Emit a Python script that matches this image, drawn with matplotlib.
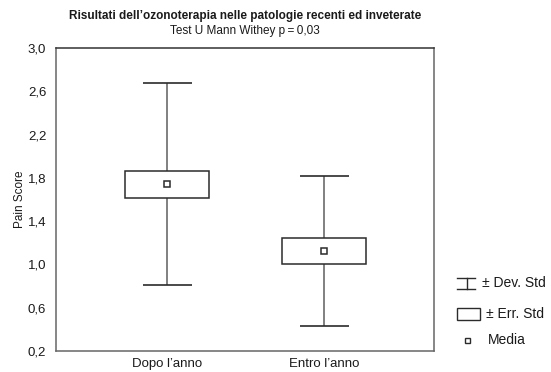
import numpy as np
import matplotlib
matplotlib.use("Agg")
import matplotlib.pyplot as plt
from matplotlib.patches import Rectangle
from matplotlib.lines import Line2D

plt.rcParams['font.family'] = ['Liberation Sans', 'DejaVu Sans']

# Pain score summary per group
categories = ["Dopo l\u2019anno", "Entro l\u2019anno"]
means = [1.74, 1.124]
std_dev = [0.934, 0.69]
std_err = [0.123, 0.124]
yticks = [0.2, 0.6, 1.0, 1.4, 1.8, 2.2, 2.6, 3.0]
ytick_labels = ["0,2", "0,6", "1,0", "1,4", "1,8", "2,2", "2,6", "3,0"]

title_main = "Risultati dell\u2019ozonoterapia nelle patologie recenti ed inveterate"
title_sub = "Test U Mann Withey p\u2009=\u20090,03"

W, H = 551, 372
fig = plt.figure(figsize=(W / 100, H / 100), dpi=100)
ax = fig.add_axes([56 / W, 1 - 351 / H, (434 - 56) / W, (351 - 48) / H])

x = np.arange(1, len(categories) + 1)
cap_half = 0.156
box_half = 0.267

stem_color = "#808080"
dark = "#2b2b2b"
text_color = "#1a1a1a"

lo = [m - s for m, s in zip(means, std_dev)]
hi = [m + s for m, s in zip(means, std_dev)]
ax.vlines(x, lo, hi, color=stem_color, lw=1.4, zorder=1)
ax.hlines(lo, x - cap_half, x + cap_half, color=dark, lw=1.2, zorder=2)
ax.hlines(hi, x - cap_half, x + cap_half, color=dark, lw=1.2, zorder=2)

ax.bar(x, [2 * e for e in std_err], bottom=[m - e for m, e in zip(means, std_err)],
       width=2 * box_half, facecolor="white", edgecolor=dark, lw=1.1, zorder=3)
ax.plot(x, means, ls="none", marker="s", ms=5, mfc="white", mec=dark, mew=1.1, zorder=4)

ax.set_xlim(0.293, 2.70)
ax.set_ylim(0.2, 3.0)
ax.set_yticks(yticks)
ax.set_yticklabels(ytick_labels)
ax.set_xticks(x)
ax.set_xticklabels(categories)
ax.tick_params(length=0, labelsize=9.5, colors=text_color, pad=7)
ax.tick_params(axis="x", pad=5)
ax.set_ylabel("Pain Score", fontsize=8.5, color=text_color, labelpad=1)
for s in ax.spines.values():
    s.set_color("#666666")
    s.set_linewidth(1.1)
ax.spines["top"].set_color("#333333")

fig.text(245 / W, 1 - 16 / H, title_main, ha="center", va="center", fontsize=8.5,
         fontweight="bold", color=text_color)
fig.text(245 / W, 1 - 31 / H, title_sub, ha="center", va="center", fontsize=8.5,
         color=text_color)

# Legend drawn in figure pixel coordinates
lg = fig.add_axes([0, 0, 1, 1], facecolor="none")
lg.set_xlim(0, W)
lg.set_ylim(H, 0)
lg.axis("off")
lg.add_line(Line2D([457, 475], [277.5, 277.5], color=dark, lw=1))
lg.add_line(Line2D([457, 475], [288.5, 288.5], color=dark, lw=1))
lg.add_line(Line2D([467, 467], [277.5, 288.5], color=dark, lw=1))
lg.add_patch(Rectangle((457, 307.5), 22.5, 12.5, facecolor="white", edgecolor=dark, lw=1))
lg.add_patch(Rectangle((464.5, 337.5), 5, 5, facecolor="white", edgecolor=dark, lw=1))
lg.text(482, 283, "\u00b1 Dev. Std", ha="left", va="center", fontsize=10, color=text_color)
lg.text(486, 314, "\u00b1 Err. Std", ha="left", va="center", fontsize=10, color=text_color)
lg.text(488, 340, "Media", ha="left", va="center", fontsize=10, color=text_color)

fig.savefig("out.png", dpi=100)
